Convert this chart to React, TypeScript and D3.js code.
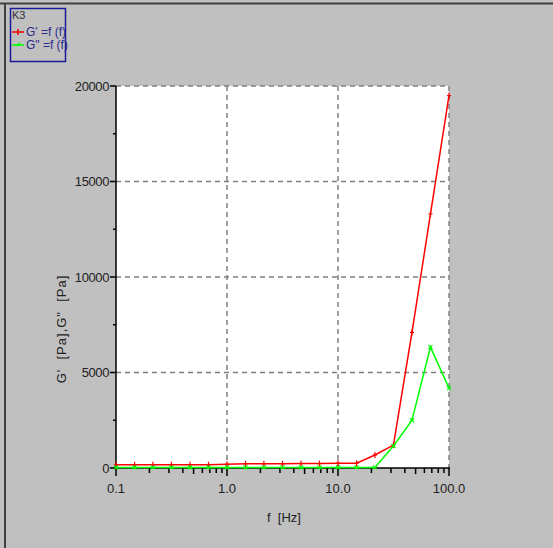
import React, { useEffect, useRef } from "react";
import * as d3 from "d3";

const freqs = [0.1, 0.147, 0.215, 0.316, 0.464, 0.681, 1.0, 1.47, 2.15, 3.16, 4.64, 6.81, 10.0, 14.7, 21.5, 31.6, 46.4, 68.1, 100.0];
const gPrime = [170, 170, 170, 170, 170, 170, 200, 220, 220, 220, 230, 230, 250, 250, 680, 1200, 7100, 13300, 19500];
const gDouble = [30, 30, 30, 30, 30, 30, 30, 30, 30, 30, 30, 30, 30, 30, 30, 1150, 2500, 6330, 4180];
const xTickValues = [0.1, 1, 10, 100];
const xTickLabels = ["0.1", "1.0", "10.0", "100.0"];
const yTickValues = [0, 5000, 10000, 15000, 20000];
const legendTitle = "K3";
const seriesNames = ["G' =f (f)", "G\" =f (f)"];
const seriesColors = ["#ff0000", "#00ff00"];

export default function App() {
  const ref = useRef<SVGSVGElement>(null);
  useEffect(() => {
    const svg = d3.select(ref.current);
    svg.selectAll("*").remove();
    const W = 553, H = 548;
    const L = 116, R = 449, T = 86, B = 468;
    const font = "'Liberation Sans', Arial, sans-serif";
    svg.append("rect").attr("width", W).attr("height", H).attr("fill", "#c0c0c0");
    svg.append("line").attr("x1", 0).attr("x2", W).attr("y1", 3.5).attr("y2", 3.5).attr("stroke", "#404040").attr("stroke-width", 2);
    svg.append("line").attr("x1", 5).attr("x2", 5).attr("y1", 3).attr("y2", H).attr("stroke", "#404040").attr("stroke-width", 2);

    const x = d3.scaleLog().domain([0.1, 100]).range([L, R]);
    const y = d3.scaleLinear().domain([0, 20000]).range([B, T]);

    svg.append("rect").attr("x", L).attr("y", T).attr("width", R - L).attr("height", B - T).attr("fill", "#fff");

    const grid = svg.append("g").attr("stroke", "#808080").attr("stroke-width", 1.5).attr("stroke-dasharray", "5,4");
    xTickValues.slice(1).forEach((v) => {
      grid.append("line").attr("x1", x(v)).attr("x2", x(v)).attr("y1", T).attr("y2", B);
    });
    yTickValues.slice(1).forEach((v) => {
      grid.append("line").attr("x1", L).attr("x2", R).attr("y1", y(v)).attr("y2", y(v));
    });

    const ax = svg.append("g").attr("stroke", "#000").attr("stroke-width", 1.5);
    ax.append("line").attr("x1", L).attr("x2", L).attr("y1", T).attr("y2", B + 1);
    ax.append("line").attr("x1", L).attr("x2", R + 1).attr("y1", B).attr("y2", B);
    for (let d = -1; d < 2; d++) {
      for (let m = 2; m <= 9; m++) {
        const v = m * Math.pow(10, d);
        ax.append("line").attr("x1", x(v)).attr("x2", x(v)).attr("y1", B).attr("y2", B + (m === 5 ? 6 : 5));
      }
    }
    xTickValues.forEach((v) => {
      ax.append("line").attr("x1", x(v)).attr("x2", x(v)).attr("y1", B).attr("y2", B + 8);
    });
    yTickValues.forEach((v) => {
      ax.append("line").attr("x1", L - 6).attr("x2", L).attr("y1", y(v)).attr("y2", y(v));
    });
    for (let v = 2500; v < 20000; v += 5000) {
      ax.append("line").attr("x1", L - 3).attr("x2", L).attr("y1", y(v)).attr("y2", y(v));
    }

    const tl = svg.append("g").attr("font-family", font).attr("font-size", 13).attr("fill", "#202020");
    xTickValues.forEach((v, i) => {
      tl.append("text").attr("x", x(v)).attr("y", B + 25).attr("text-anchor", "middle").text(xTickLabels[i]);
    });
    yTickValues.forEach((v) => {
      tl.append("text").attr("x", L - 7).attr("y", y(v) + 4.5).attr("text-anchor", "end").attr("letter-spacing", -0.4).text(String(v));
    });
    tl.append("text").attr("x", 284).attr("y", 522).attr("text-anchor", "middle").attr("xml:space", "preserve").text("f  [Hz]");
    tl.append("text").attr("transform", "translate(66,329) rotate(-90)").attr("text-anchor", "middle").attr("letter-spacing", 1).attr("xml:space", "preserve").text("G'  [Pa],G\"  [Pa]");

    const line = d3.line<number>().x((_, i) => x(freqs[i])).y((d) => y(d));
    [gPrime, gDouble].forEach((s, k) => {
      svg.append("path").attr("d", line(s)).attr("fill", "none").attr("stroke", seriesColors[k]).attr("stroke-width", 1.5);
      const mk = svg.append("g").attr("stroke", seriesColors[k]).attr("stroke-width", 1.2);
      s.forEach((v, i) => {
        const cx = x(freqs[i]), cy = y(v);
        if (k === 0) {
          mk.append("line").attr("x1", cx - 2).attr("x2", cx + 2).attr("y1", cy).attr("y2", cy);
          mk.append("line").attr("x1", cx).attr("x2", cx).attr("y1", cy - 3).attr("y2", cy + 3);
        } else {
          mk.append("line").attr("x1", cx - 2).attr("x2", cx + 2).attr("y1", cy - 2).attr("y2", cy + 2);
          mk.append("line").attr("x1", cx - 2).attr("x2", cx + 2).attr("y1", cy + 2).attr("y2", cy - 2);
        }
      });
    });

    const lg = svg.append("g");
    lg.append("rect").attr("x", 10.5).attr("y", 8.5).attr("width", 55).attr("height", 53).attr("fill", "none").attr("stroke", "#1a1a9a").attr("stroke-width", 1.5);
    lg.append("text").attr("x", 12).attr("y", 19).attr("font-family", font).attr("font-size", 11).attr("fill", "#303030").text(legendTitle);
    seriesNames.forEach((n, k) => {
      const yy = 32 + k * 13;
      lg.append("line").attr("x1", 12).attr("x2", 24).attr("y1", yy).attr("y2", yy).attr("stroke", seriesColors[k]).attr("stroke-width", 1.5);
      if (k === 0) lg.append("line").attr("x1", 18).attr("x2", 18).attr("y1", yy - 3).attr("y2", yy + 3).attr("stroke", seriesColors[k]).attr("stroke-width", 1.5);
      else lg.append("line").attr("x1", 16).attr("x2", 20).attr("y1", yy + 1).attr("y2", yy - 2).attr("stroke", seriesColors[k]).attr("stroke-width", 1.5);
      lg.append("text").attr("x", 26).attr("y", yy + 4).attr("font-family", font).attr("font-size", 12).attr("fill", "#2a2a8a").text(n);
    });
  }, []);
  return <svg ref={ref} width={553} height={548} style={{ position: "absolute", left: 0, top: 0 }} />;
}
